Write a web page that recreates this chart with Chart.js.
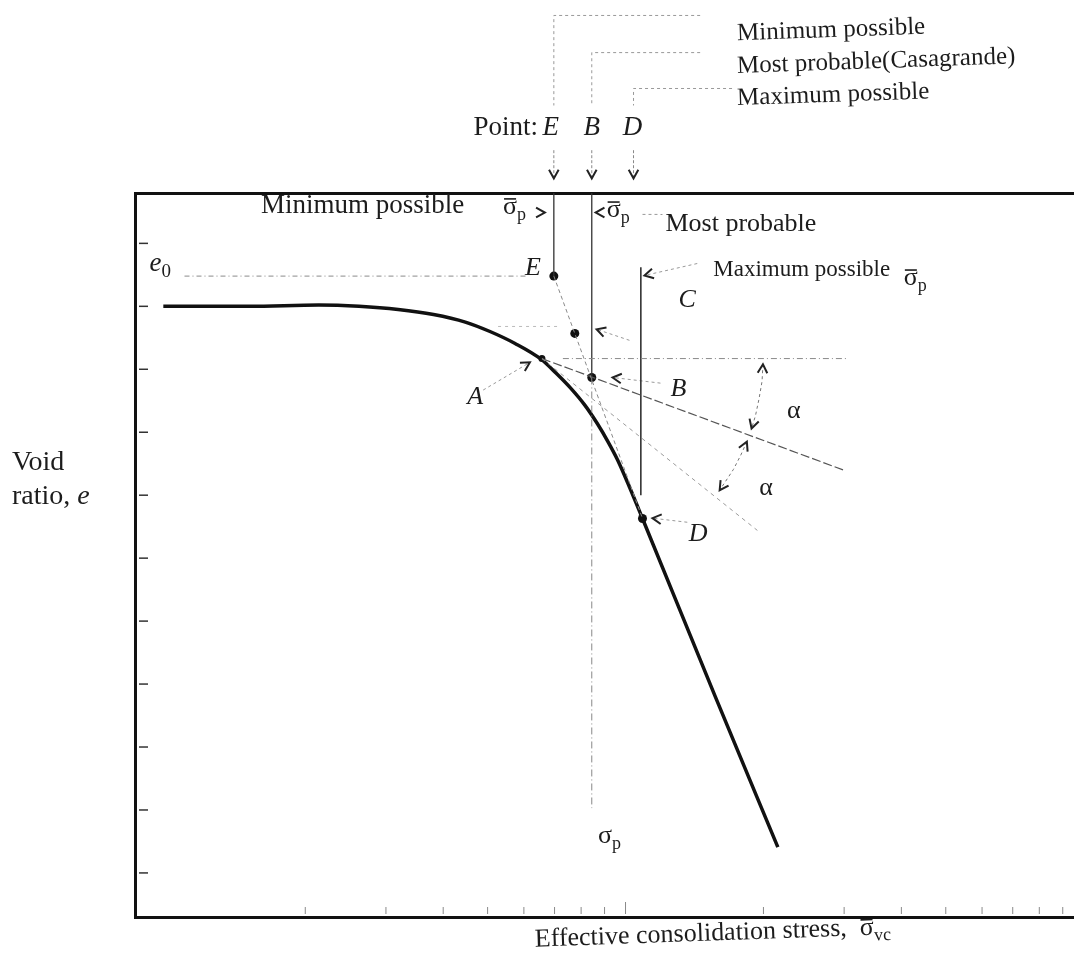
<!DOCTYPE html>
<html>
<head>
<meta charset="utf-8">
<script src="https://cdn.jsdelivr.net/npm/chart.js@4.4.0/dist/chart.umd.min.js"></script>
<style>
  html, body { margin: 0; padding: 0; background: #fff; }
  canvas { display: block; }
</style>
</head>
<body>
<canvas id="c" width="1078" height="966"></canvas>
<script>
// e - log(effective stress) curve (stress in arbitrary log units)
const curveStress = [0.98, 1.51, 2.14, 2.62, 3.19, 3.81, 4.47, 5.06, 5.74, 6.54, 7.05, 7.59, 8.15, 8.69, 9.14, 9.61, 10.2, 10.89, 15.7, 21.5];
const curveVoid   = [1.400, 1.400, 1.402, 1.400, 1.395, 1.387, 1.375, 1.360, 1.341, 1.316, 1.294, 1.270, 1.243, 1.213, 1.186, 1.156, 1.113, 1.063, 0.780, 0.541];

// construction points: A (max curvature), E, mid, B, D
const pointNames  = ['A', 'E', 'mid', 'B', 'D'];
const pointStress = [6.57, 6.975, 7.75, 8.44, 10.89];
const pointVoid   = [1.317, 1.448, 1.357, 1.287, 1.063];

// construction lines [stress, e]
const e0Line      = [[1.09, 1.448], [6.12, 1.448]];
const minLine     = [[6.975, 1.448], [6.975, 1.58]];
const probTop     = [[8.44, 1.58], [8.44, 1.287]];
const probLow     = [[8.44, 1.287], [8.44, 0.603]];
const maxLine     = [[10.8, 1.462], [10.8, 1.10]];
const virginExt   = [[6.975, 1.448], [10.89, 1.063]];
const horizA      = [[7.3, 1.317], [30.4, 1.317]];
const bisector    = [[6.57, 1.317], [29.9, 1.14]];
const tangentA    = [[6.57, 1.317], [19.4, 1.044]];
const arcUpper    = [[19.95, 1.308], [19.86, 1.281], [19.56, 1.253], [19.21, 1.226], [18.84, 1.206]];
const arcLower    = [[18.40, 1.185], [17.83, 1.163], [17.20, 1.141], [16.50, 1.121], [16.05, 1.108]];

// leader lines
const leaderA     = [[4.89, 1.267], [6.185, 1.311]];
const leaderB     = [[11.92, 1.278], [9.37, 1.287]];
const leaderD     = [[13.64, 1.057], [11.45, 1.0635]];
const leaderMid   = [[10.2, 1.346], [8.65, 1.3635]];
const leaderMidL  = [[5.27, 1.368], [7.115, 1.368]];
const leaderMax   = [[14.34, 1.468], [11.0, 1.449]];
const leaderProb  = [[10.89, 1.546], [12.04, 1.546]];

// key above the frame
const bracketE    = [[14.55, 1.862], [6.975, 1.862], [6.975, 1.719]];
const bracketB    = [[14.55, 1.803], [8.44, 1.803], [8.44, 1.719]];
const bracketD    = [[17.08, 1.746], [10.41, 1.746], [10.41, 1.719]];
const shaftE      = [[6.975, 1.648], [6.975, 1.603]];
const shaftB      = [[8.44, 1.648], [8.44, 1.603]];
const shaftD      = [[10.41, 1.648], [10.41, 1.603]];

// arrowheads [from, tip]
const arrows = [
  [[6.975, 1.648], [6.975, 1.603]],
  [[8.44, 1.648], [8.44, 1.603]],
  [[10.41, 1.648], [10.41, 1.603]],
  [[6.34, 1.549], [6.667, 1.549]],
  [[9.05, 1.549], [8.607, 1.549]],
  [[14.34, 1.468], [11.0, 1.449]],
  [[10.2, 1.346], [8.65, 1.3635]],
  [[11.92, 1.278], [9.37, 1.287]],
  [[13.64, 1.057], [11.45, 1.0635]],
  [[4.89, 1.267], [6.185, 1.311]],
  [[19.86, 1.281], [19.95, 1.308]],
  [[19.21, 1.226], [18.84, 1.206]],
  [[17.83, 1.163], [18.40, 1.185]],
  [[16.50, 1.121], [16.05, 1.108]]
];

// axis tick values (no labels in the figure)
const voidTicks   = [0.5, 0.6, 0.7, 0.8, 0.9, 1.0, 1.1, 1.2, 1.3, 1.4, 1.5];
const stressTicks = [2, 3, 4, 5, 6, 7, 8, 9, 10, 20, 30, 40, 50, 60, 70, 80, 90];

// text labels: anchor [stress, e], parts {t, it, sub, bar}
const textLabels = [
  { at: [17.52, 1.833], size: 25, rot: -0.035, parts: [{ t: 'Minimum possible' }] },
  { at: [17.52, 1.781], size: 25, rot: -0.035, parts: [{ t: 'Most probable(Casagrande)' }] },
  { at: [17.52, 1.730], size: 25, rot: -0.035, parts: [{ t: 'Maximum possible' }] },
  { at: [6.44, 1.683], size: 27, align: 'right', parts: [{ t: 'Point:' }] },
  { at: [6.87, 1.683], size: 27, align: 'center', parts: [{ t: 'E', it: true }] },
  { at: [8.44, 1.683], size: 27, align: 'center', parts: [{ t: 'B', it: true }] },
  { at: [10.36, 1.683], size: 27, align: 'center', parts: [{ t: 'D', it: true }] },
  { at: [1.601, 1.560], size: 27, parts: [{ t: 'Minimum possible' }] },
  { at: [5.404, 1.557], size: 26, parts: [{ t: 'σ', bar: true }, { t: 'p', sub: true }] },
  { at: [9.094, 1.552], size: 26, parts: [{ t: 'σ', bar: true }, { t: 'p', sub: true }] },
  { at: [12.22, 1.530], size: 26, parts: [{ t: 'Most probable' }] },
  { at: [15.54, 1.457], size: 23, parts: [{ t: 'Maximum possible' }] },
  { at: [40.5, 1.444], size: 26, parts: [{ t: 'σ', bar: true }, { t: 'p', sub: true }] },
  { at: [13.64, 1.4095], size: 26, align: 'center', parts: [{ t: 'C', it: true }] },
  { at: [6.28, 1.460], size: 26, align: 'center', parts: [{ t: 'E', it: true }] },
  { at: [0.914, 1.468], size: 27, parts: [{ t: 'e', it: true }, { t: '0', sub: true }] },
  { at: [4.696, 1.2556], size: 26, align: 'center', parts: [{ t: 'A', it: true }] },
  { at: [13.04, 1.268], size: 26, align: 'center', parts: [{ t: 'B', it: true }] },
  { at: [14.41, 1.038], size: 26, align: 'center', parts: [{ t: 'D', it: true }] },
  { at: [23.31, 1.2333], size: 26, align: 'center', parts: [{ t: 'α' }] },
  { at: [20.26, 1.111], size: 26, align: 'center', parts: [{ t: 'α' }] },
  { at: [9.23, 0.5587], size: 26, align: 'center', parts: [{ t: 'σ' }, { t: 'p', sub: true }] },
  { at: [0.458, 1.152], size: 28, parts: [{ t: 'Void' }] },
  { at: [0.458, 1.098], size: 28, parts: [{ t: 'ratio, ' }, { t: 'e', it: true }] },
  { at: [6.34, 0.3937], size: 26, rot: -0.035, parts: [{ t: 'Effective consolidation stress,  ' }, { t: 'σ', bar: true }, { t: 'vc', sub: true }] }
];

const seg = (pts, color, width, dash, extra) => Object.assign({
  data: pts.map(([x, y]) => ({ x, y })),
  showLine: true,
  pointRadius: 0,
  borderColor: color,
  borderWidth: width,
  borderDash: dash || [],
  fill: false,
  tension: 0
}, extra || {});

const datasets = [
  seg(e0Line, '#8a8a8a', 1, [5, 3, 1, 3]),
  seg(horizA, '#8a8a8a', 1, [6, 3, 1, 3]),
  seg(virginExt, '#8a8a8a', 1, [4, 3]),
  seg(tangentA, '#9a9a9a', 1, [4, 4]),
  seg(bisector, '#555', 1.2, [9, 3]),
  seg(arcUpper, '#777', 1, [3, 3]),
  seg(arcLower, '#777', 1, [3, 3]),
  seg(probLow, '#888', 1, [7, 3, 1, 3]),
  seg(minLine, '#333', 1.3),
  seg(probTop, '#333', 1.3),
  seg(maxLine, '#333', 1.6),
  seg(leaderA, '#999', 1, [3, 3]),
  seg(leaderB, '#999', 1, [3, 3]),
  seg(leaderD, '#999', 1, [3, 3]),
  seg(leaderMid, '#999', 1, [3, 3]),
  seg(leaderMidL, '#bbb', 1, [3, 4]),
  seg(leaderMax, '#999', 1, [3, 3]),
  seg(leaderProb, '#999', 1, [3, 3]),
  seg(bracketE, '#999', 1, [3, 3], { clip: false }),
  seg(bracketB, '#999', 1, [3, 3], { clip: false }),
  seg(bracketD, '#999', 1, [3, 3], { clip: false }),
  seg(shaftE, '#888', 1, [3, 2], { clip: false }),
  seg(shaftB, '#888', 1, [3, 2], { clip: false }),
  seg(shaftD, '#888', 1, [3, 2], { clip: false }),
  {
    data: curveStress.map((x, i) => ({ x, y: curveVoid[i] })),
    showLine: true,
    pointRadius: 0,
    borderColor: '#111',
    borderWidth: 3.5,
    cubicInterpolationMode: 'monotone',
    fill: false
  },
  {
    data: pointStress.map((x, i) => ({ x, y: pointVoid[i] })),
    showLine: false,
    pointRadius: pointNames.map(n => n === 'A' ? 3.5 : 4.5),
    pointBackgroundColor: '#111',
    pointBorderWidth: 0
  }
];

function drawRich(ctx, x, y, parts, size, align, rot) {
  const fontFor = p => (p.it ? 'italic ' : '') + (p.sub ? Math.round(size * 0.7) : size) + 'px "Liberation Serif", "DejaVu Serif", serif';
  let total = 0;
  const widths = parts.map(p => {
    ctx.font = fontFor(p);
    const w = ctx.measureText(p.t).width;
    total += w;
    return w;
  });
  let cx = align === 'right' ? -total : align === 'center' ? -total / 2 : 0;
  ctx.save();
  ctx.translate(x, y);
  if (rot) ctx.rotate(rot);
  ctx.textAlign = 'left';
  ctx.textBaseline = 'middle';
  ctx.fillStyle = '#1c1c1c';
  ctx.strokeStyle = '#1c1c1c';
  parts.forEach((p, i) => {
    ctx.font = fontFor(p);
    ctx.fillText(p.t, cx, p.sub ? size * 0.3 : 0);
    if (p.bar) {
      ctx.lineWidth = 1.6;
      ctx.beginPath();
      ctx.moveTo(cx + 1, -size * 0.33);
      ctx.lineTo(cx + widths[i] - 1, -size * 0.33);
      ctx.stroke();
    }
    cx += widths[i];
  });
  ctx.restore();
}

function head(ctx, x0, y0, x1, y1) {
  const a = Math.atan2(y1 - y0, x1 - x0);
  const len = 10, spread = 0.5;
  ctx.beginPath();
  ctx.moveTo(x1 - len * Math.cos(a - spread), y1 - len * Math.sin(a - spread));
  ctx.lineTo(x1, y1);
  ctx.lineTo(x1 - len * Math.cos(a + spread), y1 - len * Math.sin(a + spread));
  ctx.stroke();
}

const overlay = {
  id: 'overlay',
  afterDraw(chart) {
    const { ctx, chartArea: area, scales } = chart;
    const px = v => scales.x.getPixelForValue(v);
    const py = v => scales.y.getPixelForValue(v);
    ctx.save();
    // ticks drawn inside the frame
    ctx.strokeStyle = '#333';
    ctx.lineWidth = 1.5;
    voidTicks.forEach(v => {
      ctx.beginPath();
      ctx.moveTo(area.left + 4, py(v));
      ctx.lineTo(area.left + 13, py(v));
      ctx.stroke();
    });
    ctx.strokeStyle = '#8a8a8a';
    ctx.lineWidth = 1;
    stressTicks.forEach(v => {
      const h = v === 10 ? 12 : 7;
      ctx.beginPath();
      ctx.moveTo(px(v), area.bottom - 3);
      ctx.lineTo(px(v), area.bottom - 3 - h);
      ctx.stroke();
    });
    // arrowheads
    ctx.strokeStyle = '#222';
    ctx.lineWidth = 2;
    ctx.lineJoin = 'miter';
    arrows.forEach(([from, to]) => head(ctx, px(from[0]), py(from[1]), px(to[0]), py(to[1])));
    // labels
    textLabels.forEach(l => drawRich(ctx, px(l.at[0]), py(l.at[1]), l.parts, l.size || 26, l.align || 'left', l.rot || 0));
    ctx.restore();
  }
};

const hiddenAxis = (extra) => Object.assign({
  ticks: { display: false },
  grid: { display: false, drawTicks: false },
  border: { display: true, color: '#111', width: 3 }
}, extra);

new Chart(document.getElementById('c'), {
  type: 'scatter',
  data: { datasets },
  options: {
    responsive: false,
    animation: false,
    events: [],
    layout: { padding: { left: 135, top: 193, right: 0, bottom: 49 } },
    plugins: { legend: { display: false }, tooltip: { enabled: false } },
    scales: {
      x: hiddenAxis({ type: 'logarithmic', position: 'bottom', min: 0.85, max: 95 }),
      y: hiddenAxis({ type: 'linear', position: 'left', min: 0.43, max: 1.58 }),
      xTop: hiddenAxis({ type: 'linear', axis: 'x', position: 'top', min: 0, max: 1 })
    }
  },
  plugins: [overlay]
});
</script>
</body>
</html>
